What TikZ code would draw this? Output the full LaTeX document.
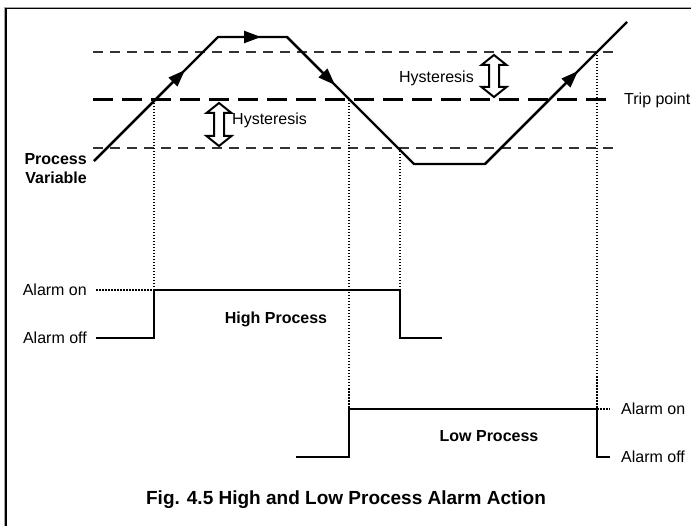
\documentclass[tikz,border=0pt]{standalone}
\usepackage{fontspec}
\setmainfont{Liberation Sans}
\usetikzlibrary{arrows.meta,calc}
\begin{document}
\begin{tikzpicture}[x=1pt,y=-1pt,
  every node/.style={font=\fontsize{16}{19}\selectfont, inner sep=0pt},
  bold/.style={font=\fontsize{16}{19}\selectfont\bfseries},
  capt/.style={font=\fontsize{19}{22}\selectfont\bfseries},
  thindash/.style={line width=1.1pt, dash pattern=on 10pt off 7pt, black!80},
  tripdash/.style={line width=3pt, dash pattern=on 20pt off 9pt},
  dotline/.style={line width=1.2pt, dash pattern=on 1.5pt off 1.5pt},
  curve/.style={line width=2.4pt, line join=miter},
  signal/.style={line width=2.4pt, line join=miter},
  flowtip/.style={line width=2.4pt, -{Triangle[length=17pt,width=12pt]}},
  hyst/.style={line width=2pt, fill=white, line join=miter}
]
\useasboundingbox (0,0) rectangle (691,526);
% frame
\draw[black!35, line width=1pt] (4.2,540) -- (4.2,7.2) -- (700,7.2);
\draw[line width=1.4pt] (5.8,540) -- (5.8,8.7) -- (700,8.7);

% horizontal reference lines
\coordinate (uL) at (93,52);  \coordinate (uR) at (613,52);
\coordinate (tL) at (93,100); \coordinate (tR) at (613,100);
\coordinate (lL) at (93,148); \coordinate (lR) at (613,148);
\draw[thindash] (uL) -- (uR);
\draw[tripdash] (tL) -- (tR);
\draw[thindash] (lL) -- (lR);

% process variable curve
\coordinate (p0) at (94,161);
\coordinate (p1) at (218,37);
\coordinate (p2) at (287,37);
\coordinate (p3) at (414,164);
\coordinate (p4) at (485,164);
\coordinate (p5) at (627,22);
\draw[curve] (p0) -- (p1) -- (p2) -- (p3) -- (p4) -- (p5);
\coordinate (a1) at (185,70);
\coordinate (a2) at (261,37);
\coordinate (a3) at (335,85);
\coordinate (a4) at (578,71);
\draw[flowtip] (p0) -- (a1);
\draw[flowtip] (p1) -- (a2);
\draw[flowtip] (p2) -- (a3);
\draw[flowtip] (p4) -- (a4);

% dotted verticals
\coordinate (d1t) at (154,100); \coordinate (d1b) at (154,290);
\coordinate (d2t) at (349,100); \coordinate (d2b) at (349,409);
\coordinate (d3t) at (400,148); \coordinate (d3b) at (400,290);
\coordinate (d4t) at (597,52);  \coordinate (d4b) at (597,409);
\draw[dotline] (d1t) -- (d1b);
\draw[dotline] (d2t) -- (d2b);
\draw[dotline] (d3t) -- (d3b);
\draw[dotline] (d4t) -- (d4b);

% hysteresis arrows
\foreach \cx/\ty/\by in {219/103/146, 494/55/97}{
  \draw[hyst] (\cx,\ty) -- (\cx+12.5,\ty+10) -- (\cx+5,\ty+10) -- (\cx+5,\by-10)
    -- (\cx+12.5,\by-10) -- (\cx,\by) -- (\cx-12.5,\by-10) -- (\cx-5,\by-10)
    -- (\cx-5,\ty+10) -- (\cx-12.5,\ty+10) -- cycle;
}
\node[anchor=west] (hys1) at (232,120) {Hysteresis};
\node[anchor=east] (hys2) at (474,78) {Hysteresis};
\node[anchor=west] (trip) at (624,100) {Trip point};
\node[bold, anchor=east, align=right] (pv) at (87,169) {Process\\Variable};

% high process alarm
\coordinate (h0) at (96,338); \coordinate (h1) at (154,338);
\coordinate (h2) at (154,290); \coordinate (h3) at (400,290);
\coordinate (h4) at (400,338); \coordinate (h5) at (442,338);
\coordinate (hd) at (96,290);
\draw[signal] (h0) -- (h1) -- (h2) -- (h3) -- (h4) -- (h5);
\draw[dotline] (hd) -- (h2);
\node[anchor=east] (hon) at (87,290) {Alarm on};
\node[anchor=east] (hoff) at (87,338) {Alarm off};
\node[bold] (hp) at (276,319) {High Process};

% low process alarm
\coordinate (l0) at (296,457); \coordinate (l1) at (349,457);
\coordinate (l2) at (349,409); \coordinate (l3) at (597,409);
\coordinate (l4) at (597,457); \coordinate (l5) at (610,457);
\coordinate (ld) at (610,409);
\draw[signal] (l0) -- (l1) -- (l2) -- (l3) -- (l4) -- (l5);
\draw[dotline] (l3) -- (ld);
\node[anchor=west] (lon) at (621,409) {Alarm on};
\node[anchor=west] (loff) at (621,457) {Alarm off};
\node[bold] (lp) at (489,436) {Low Process};

% caption
\node[capt] (cap) at (346,500) {Fig. 4.5 High and Low Process Alarm Action};
\end{tikzpicture}
\end{document}
